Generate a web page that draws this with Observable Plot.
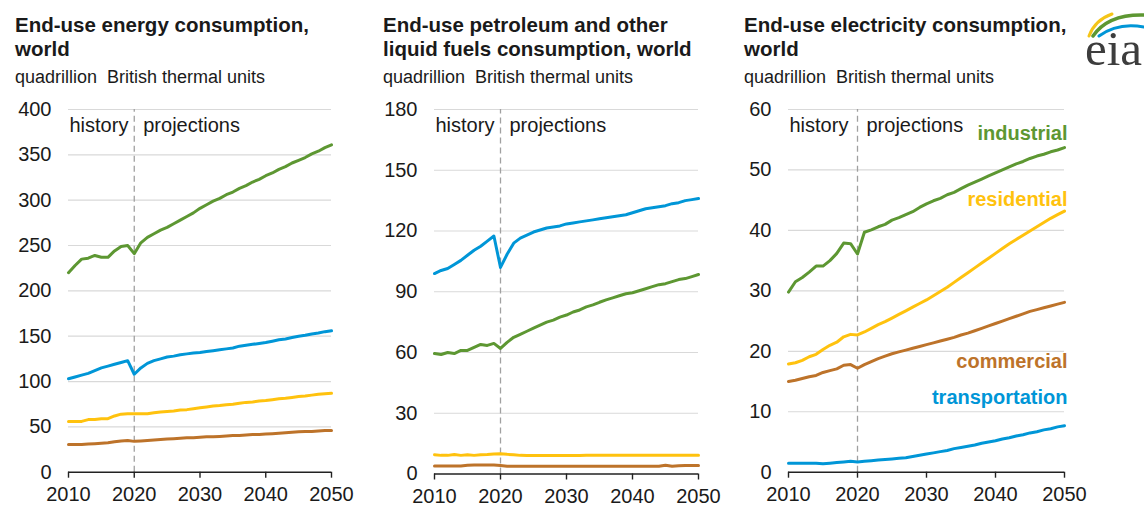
<!DOCTYPE html>
<html>
<head>
<meta charset="utf-8">
<script src="https://cdn.jsdelivr.net/npm/d3@7"></script>
<script src="https://cdn.jsdelivr.net/npm/@observablehq/plot@0.6"></script>
<style>
  body { margin: 0; background: #fff; }
  #page { position: relative; width: 1144px; height: 508px; overflow: hidden;
          font-family: "Liberation Sans", Arial, sans-serif; color: #1a1a1a; background: #fff; }
  .title { position: absolute; font-weight: bold; font-size: 20.5px; line-height: 23.5px; white-space: nowrap; }
  .sub { position: absolute; font-size: 18px; line-height: 20px; white-space: pre; }
  .panel { position: absolute; top: 95px; }
  .panel svg { overflow: visible; }
</style>
</head>
<body>
<div id="page">
  <div class="title" style="left:15px;top:13px">End-use energy consumption,<br>world</div>
  <div class="sub" style="left:15px;top:67px">quadrillion  British thermal units</div>

  <div class="title" style="left:383px;top:13px">End-use petroleum and other<br>liquid fuels consumption, world</div>
  <div class="sub" style="left:383px;top:67px">quadrillion  British thermal units</div>

  <div class="title" style="left:744px;top:13px">End-use electricity consumption,<br>world</div>
  <div class="sub" style="left:744px;top:67px">quadrillion  British thermal units</div>

  <svg id="logo" style="position:absolute;left:1070px;top:0px" width="74" height="75">
    <path d="M19 36 Q 25 20 42 14" stroke="#f5c518" stroke-width="3" fill="none" stroke-linecap="round"/>
    <path d="M23 36 Q 38 14 74 15" stroke="#5d9732" stroke-width="3.5" fill="none" stroke-linecap="round"/>
    <path d="M29 36 Q 48 22 74 27" stroke="#0096d7" stroke-width="3" fill="none" stroke-linecap="round"/>
    <text x="15" y="65" font-family="Liberation Serif, DejaVu Serif, serif" font-size="49" fill="#3d3d3d">eia</text>
  </svg>

  <div id="p1" class="panel" style="left:0px"></div>
  <div id="p2" class="panel" style="left:370px"></div>
  <div id="p3" class="panel" style="left:740px"></div>
</div>

<script>
// ---------- data ----------
const years = d3.range(2010, 2051);
const xTicks = [2010, 2020, 2030, 2040, 2050];
const sectors = ["industrial", "transportation", "residential", "commercial"];
const sectorColors = ["#5d9732", "#0096d7", "#ffc20e", "#bd732a"];

// End-use energy consumption, world
const energyIndustrial = [220,228,235,236,239,237,237,244,249,250,241,253,259,263,267,270,274,278,282,286,291,295,299,302,306,309,313,316,320,323,327,330,334,337,341,344,347,351,354,358,361];
const energyTransportation = [103,105,107,109,112,115,117,119,121,123,108,115,120,123,125,127,128,129.5,130.5,131.5,132,133,134,135,136,137,139,140,141,142,143,144.5,146,147,148.5,150,151,152.5,153.5,155,156];
const energyResidential = [56,56,56,58,58,59,59,62,64,64.5,64.5,64.5,64.5,65.5,66.5,67,67.5,68.5,69,70,71,72,73,73.5,74.5,75,76,77,77.5,78.5,79,80,81,81.5,82.5,83.5,84,85,86,86.5,87];
const energyCommercial = [30.5,30.5,30.5,31,31.5,32,32.5,33.5,34.5,35,34,34.5,35,35.5,36,36.5,37,37.5,38,38,38.5,39,39,39.5,40,40.5,40.5,41,41.5,41.5,42,42.5,43,43.5,44,44.5,45,45,45.5,46,46];
const energyTicks = [0, 50, 100, 150, 200, 250, 300, 350, 400];

// End-use petroleum and other liquid fuels consumption, world
const liquidsTransportation = [99,100.5,101.5,103.5,105.5,108,110.5,112.5,115,117.5,102,108.5,114,116.5,118,119.5,120.5,121.5,122,122.5,123.5,124,124.5,125,125.5,126,126.5,127,127.5,128,129,130,131,131.5,132,132.5,133.5,134,135,135.5,136];
const liquidsIndustrial = [59.5,59,60,59.5,61,61,62.5,64,63.5,64.5,62,65,67.5,69,70.5,72,73.5,75,76,77.5,78.5,80,81,82.5,83.5,84.8,86,87,88,89,89.5,90.5,91.5,92.5,93.5,94,95,96,96.5,97.5,98.5];
const liquidsResidential = [9.5,9.2,9.2,9.6,9.2,9.5,9.2,9.5,9.6,9.9,10,9.7,9.5,9.2,9.1,9.1,9.1,9.1,9.1,9.1,9.1,9.1,9.1,9.3,9.3,9.3,9.3,9.3,9.3,9.3,9.3,9.3,9.3,9.3,9.3,9.3,9.3,9.3,9.3,9.3,9.3];
const liquidsCommercial = [4,4,4,4,4,4.3,4.4,4.4,4.4,4.4,4.2,3.8,3.8,3.8,3.8,3.8,3.8,3.8,3.8,3.8,3.8,3.8,3.8,3.8,3.8,3.8,3.8,3.8,3.8,3.8,3.8,3.8,3.8,3.8,3.8,4.3,3.8,4.1,4.2,4.2,4.2];
const liquidsTicks = [0, 30, 60, 90, 120, 150, 180];

// End-use electricity consumption, world
const elecIndustrial = [29.8,31.5,32.2,33.1,34.1,34.1,35,36.2,37.9,37.8,36.1,39.7,40.1,40.6,41,41.7,42.1,42.6,43.1,43.8,44.4,44.9,45.3,45.9,46.3,46.9,47.5,48,48.5,49,49.5,50,50.5,51,51.4,51.9,52.3,52.6,53,53.3,53.7];
const elecResidential = [17.9,18.1,18.5,19.1,19.5,20.3,21,21.5,22.4,22.8,22.7,23.2,23.8,24.4,24.9,25.5,26.1,26.7,27.3,27.9,28.5,29.2,29.9,30.6,31.4,32.2,33,33.8,34.6,35.4,36.2,37,37.8,38.5,39.2,39.9,40.6,41.3,42,42.6,43.2];
const elecCommercial = [15,15.2,15.5,15.8,16,16.5,16.8,17.1,17.7,17.8,17.2,17.8,18.3,18.8,19.2,19.6,19.9,20.2,20.5,20.8,21.1,21.4,21.7,22,22.3,22.7,23,23.4,23.8,24.2,24.6,25,25.4,25.8,26.2,26.6,26.9,27.2,27.5,27.8,28.1];
const elecTransportation = [1.5,1.5,1.5,1.5,1.5,1.4,1.5,1.6,1.7,1.8,1.7,1.8,1.9,2,2.1,2.2,2.3,2.4,2.6,2.8,3,3.2,3.4,3.6,3.9,4.1,4.3,4.5,4.8,5,5.2,5.5,5.7,6,6.2,6.5,6.7,7,7.2,7.5,7.7];
const elecTicks = [0, 10, 20, 30, 40, 50, 60];

// series labels in the electricity panel (label text, label value on y axis)
const elecLabelNames = ["industrial", "residential", "commercial", "transportation"];
const elecLabelValues = [55.0, 44.1, 17.3, 11.2];

// ---------- drawing ----------
function drawPanel({host, width, mL, mR, mB, yTicks, series, labels}) {
  const yMax = yTicks[yTicks.length - 1];
  const rows = [];
  series.forEach(s => s.values.forEach((v, i) => rows.push({sector: s.name, year: years[i], value: v})));
  const marks = [
    Plot.gridY(yTicks.filter(t => t > 0), {stroke: "#d9d9d9", strokeOpacity: 1, strokeWidth: 1.2}),
    Plot.ruleX([2020], {y1: 0, y2: yMax, stroke: "#a0a0a0", strokeWidth: 1.3, strokeDasharray: "6,4"}),
    Plot.line(rows, {x: "year", y: "value", z: "sector", stroke: "sector", strokeWidth: 3, strokeLinejoin: "round"}),
    Plot.ruleY([0], {stroke: "#222", strokeWidth: 1.4}),
    Plot.axisX(xTicks, {tickSize: 6, tickPadding: 9, tickFormat: d => String(d), stroke: "#222", strokeWidth: 1.4, fill: "#1a1a1a", fontSize: 20, label: null}),
    Plot.axisY(yTicks, {tickSize: 0, tickPadding: 17, fill: "#1a1a1a", fontSize: 20, label: null}),
    Plot.text(["history"], {x: 2010, y: yMax, dy: 22.7, dx: 1, text: d => d, textAnchor: "start", lineAnchor: "bottom", fontSize: 20, fill: "#1a1a1a"}),
    Plot.text(["projections"], {x: 2020, y: yMax, dy: 22.7, dx: 9, text: d => d, textAnchor: "start", lineAnchor: "bottom", fontSize: 20, fill: "#1a1a1a"})
  ];
  if (labels) {
    marks.push(Plot.text(labels, {x: 2050, y: "value", text: "name", fill: "name", dx: 3,
      textAnchor: "end", lineAnchor: "bottom", fontSize: 20, fontWeight: "bold"}));
  }
  const chart = Plot.plot({
    width, height: 413,
    marginLeft: mL, marginRight: mR, marginTop: 14, marginBottom: mB,
    style: {fontFamily: "Liberation Sans, Arial, sans-serif", fontSize: "20px", color: "#1a1a1a", background: "transparent", overflow: "visible"},
    x: {domain: [2010, 2050], label: null},
    y: {domain: [0, yMax], label: null},
    color: {domain: sectors, range: sectorColors},
    marks
  });
  document.getElementById(host).appendChild(chart);
}

drawPanel({host: "p1", width: 370, mL: 68, mR: 39, mB: 36.3, yTicks: energyTicks, series: [
  {name: "industrial", values: energyIndustrial},
  {name: "transportation", values: energyTransportation},
  {name: "residential", values: energyResidential},
  {name: "commercial", values: energyCommercial}
]});

drawPanel({host: "p2", width: 370, mL: 64, mR: 42, mB: 34.5, yTicks: liquidsTicks, series: [
  {name: "industrial", values: liquidsIndustrial},
  {name: "transportation", values: liquidsTransportation},
  {name: "residential", values: liquidsResidential},
  {name: "commercial", values: liquidsCommercial}
]});

drawPanel({host: "p3", width: 404, mL: 48, mR: 80, mB: 36.3, yTicks: elecTicks, series: [
  {name: "industrial", values: elecIndustrial},
  {name: "transportation", values: elecTransportation},
  {name: "residential", values: elecResidential},
  {name: "commercial", values: elecCommercial}
], labels: elecLabelNames.map((n, i) => ({name: n, value: elecLabelValues[i]}))});
</script>
</body>
</html>
